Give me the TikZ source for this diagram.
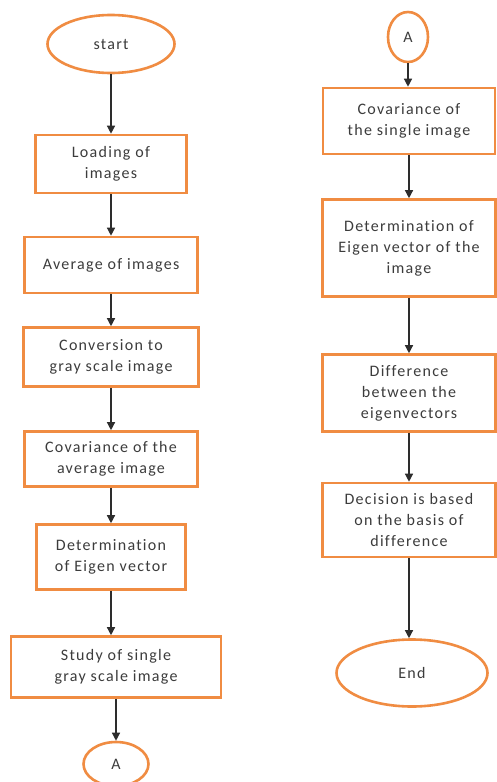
\documentclass[tikz,border=0pt]{standalone}
\usepackage{fontspec}
\setmainfont[LetterSpace=8,Ligatures={NoCommon}]{Carlito}
\usepackage{xcolor}
\usetikzlibrary{shapes.geometric,arrows.meta}
\definecolor{boxorange}{RGB}{240,140,66}
\definecolor{txtgray}{RGB}{60,60,60}
\definecolor{arrgray}{RGB}{45,45,45}
\tikzset{
  stepbox/.style={draw=boxorange,line width=2.6pt,fill=white,align=center,inner sep=2pt,text=txtgray,font=\fontsize{16}{21}\selectfont},
  termnode/.style={stepbox,ellipse},
  flowarrow/.style={draw=arrgray,line width=1.3pt,-{Triangle[length=8pt,width=8pt]}}
}

\begin{document}
\begin{tikzpicture}[x=1pt,y=-1pt]
\useasboundingbox[fill=white] (0,0) rectangle (496,782);

% linke Spalte
\node[termnode,minimum width=127,minimum height=58] (start) at (111,44) {start};
\node[stepbox,minimum width=151,minimum height=58] (load) at (111,164) {Loading of\\images};
\node[stepbox,minimum width=173,minimum height=56] (avg) at (111,265) {Average of images};
\node[stepbox,minimum width=175,minimum height=59] (gray) at (111,357) {Conversion to\\gray scale image};
\node[stepbox,minimum width=173,minimum height=55] (covavg) at (111,459) {Covariance of the\\average image};
\node[stepbox,minimum width=149,minimum height=65] (eigavg) at (111,557) {Determination\\of Eigen vector};
\node[stepbox,minimum width=210,minimum height=61] (single) at (116,667) {Study of single\\gray scale image};
\node[termnode,minimum width=65,minimum height=44] (conA) at (116,764) {A};

% rechte Spalte
\node[termnode,minimum width=40,minimum height=50] (conB) at (408,37) {A};
\node[stepbox,minimum width=172,minimum height=66] (covsingle) at (409,121) {Covariance of\\the single image};
\node[stepbox,minimum width=173,minimum height=97] (eigsingle) at (409,248) {Determination of\\Eigen vector of the\\image};
\node[stepbox,minimum width=173,minimum height=77] (diff) at (409,393) {Difference\\between the\\eigenvectors};
\node[stepbox,minimum width=173,minimum height=74] (decide) at (409,520) {Decision is based\\on the basis of\\difference};
\node[termnode,minimum width=151,minimum height=67] (stop) at (412,673) {End};

% Pfeile
\foreach \a/\b in {start/load,load/avg,avg/gray,gray/covavg,covavg/eigavg,eigavg/single,single/conA,conB/covsingle,covsingle/eigsingle,eigsingle/diff,diff/decide,decide/stop}
  \draw[flowarrow] (\a.south) -- (\a.south |- \b.north);

\end{tikzpicture}
\end{document}
